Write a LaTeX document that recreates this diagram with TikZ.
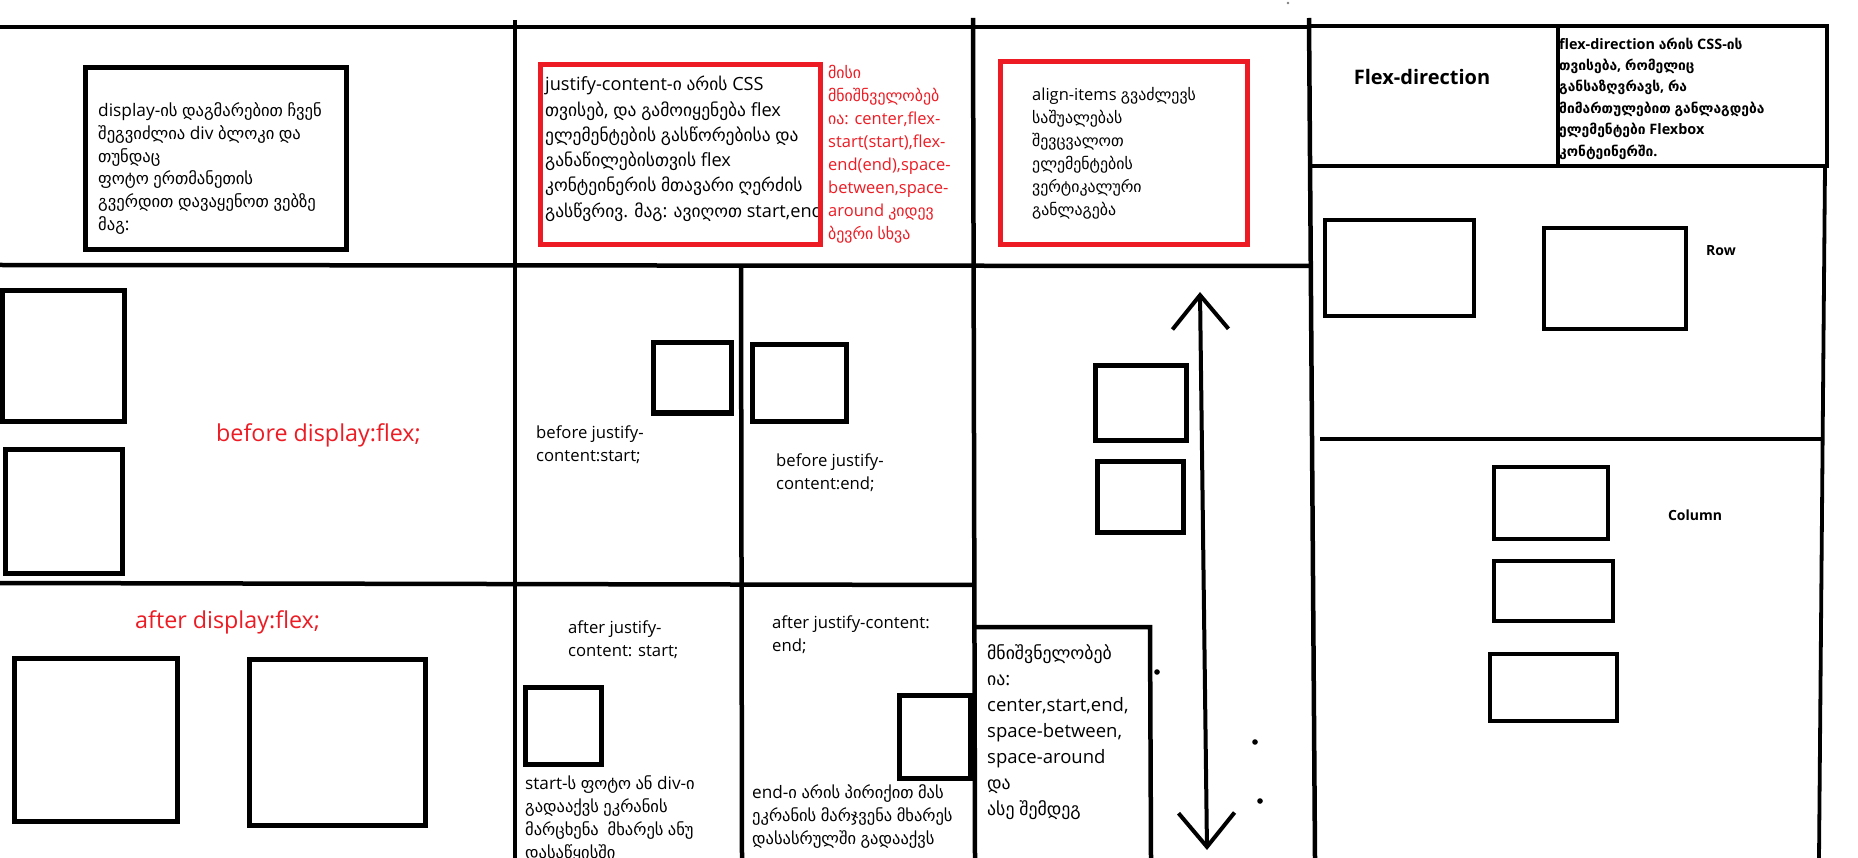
\documentclass[tikz,border=0pt]{standalone}
\usepackage{fontspec}
\setmainfont{Open Sans}
\newfontfamily\geofont{DejaVu Sans}[Scale=0.96]
\usetikzlibrary{arrows.meta}
\XeTeXinterchartokenstate=1
\newXeTeXintercharclass\GeoClass
\makeatletter
\@tempcnta="10A0
\loop\ifnum\@tempcnta<"1100
  \XeTeXcharclass\@tempcnta=\GeoClass
  \advance\@tempcnta by 1
\repeat
\makeatother
\XeTeXinterchartoks 0 \GeoClass = {\begingroup\geofont}
\XeTeXinterchartoks 4095 \GeoClass = {\begingroup\geofont}
\XeTeXinterchartoks \GeoClass 0 = {\endgroup}
\XeTeXinterchartoks \GeoClass 4095 = {\endgroup}
\definecolor{pred}{RGB}{237,28,36}
\tikzset{
  gridline/.style={line width=4.5pt},
  thingrid/.style={line width=3.8pt},
  sqbox/.style={line width=5pt},
  thinbox/.style={line width=4pt},
  redbox/.style={draw=pred, line width=5pt},
  txt/.style={inner sep=0pt, align=left, anchor=north west},
  fa/.style={font=\fontsize{17.3}{22.7}\selectfont},
  fb/.style={font=\fontsize{18.2}{25.3}\selectfont},
  fc/.style={font=\fontsize{16.5}{23}\selectfont},
  fi/.style={font=\fontsize{16.7}{22.5}\selectfont},
  fk/.style={font=\fontsize{17.2}{23}\selectfont},
  fj/.style={font=\fontsize{18.5}{26}\selectfont},
  fbig/.style={font=\fontsize{23.3}{28}\selectfont, text=pred, inner sep=0pt, anchor=base west},
  fsmall/.style={font=\bfseries\fontsize{14.4}{21.4}\selectfont},
  mybarb/.tip={Straight Barb[length=34pt, width=56pt, line width=4pt]}
}
\begin{document}
\begin{tikzpicture}[x=1pt,y=-1pt]
\useasboundingbox[fill=white] (0,0) rectangle (1858,858);

% ---------- texts ----------
\node[txt,fa] (tA) at (98,102.5) {display-ის დაგმარებით ჩვენ\\შეგვიძლია div ბლოკი და\\თუნდაც\\ფოტო ერთმანეთის\\გვერდით დავაყენოთ ვებზე\\მაგ:};
\node[txt,fb] (tB) at (545,76) {justify-content-ი არის CSS\\თვისებ, და გამოიყენება flex\\ელემენტების გასწორებისა და\\განაწილებისთვის flex\\კონტეინერის მთავარი ღერძის\\გასწვრივ. მაგ: ავიღოთ start,end};
\node[txt,fc,text=pred] (tC) at (828,65) {მისი\\მნიშნველობებ\\ია: center,flex-\\start(start),flex-\\end(end),space-\\between,space-\\around კიდევ\\ბევრი სხვა};
\node[txt,fc] (tD) at (1032,87) {align-items გვაძლევს\\საშუალებას\\შევცვალოთ\\ელემენტების\\ვერტიკალური\\განლაგება};
\node[font=\bfseries\fontsize{20}{24}\selectfont, inner sep=0pt] (tE) at (1422,77) {Flex-direction};
\node[txt,fsmall] (tF) at (1559,37.5) {flex-direction არის CSS-ის\\თვისება, რომელიც\\განსაზღვრავს, რა\\მიმართულებით განლაგდება\\ელემენტები Flexbox\\კონტეინერში.};
\node[font=\bfseries\fontsize{14}{17}\selectfont, inner sep=0pt] (tRow) at (1721,251) {Row};
\node[font=\bfseries\fontsize{14}{17}\selectfont, inner sep=0pt] (tCol) at (1695,515) {Column};

\node[fbig] (tH1) at (216,442) {before display:flex;};
\node[fbig] (tH2) at (135,628) {after display:flex;};

\node[txt,fi] (tI1) at (536,426) {before justify-\\content:start;};
\node[txt,fi] (tI2) at (776,454) {before justify-\\content:end;};
\node[txt,fi] (tI3) at (568,621) {after justify-\\content: start;};
\node[txt,fi] (tI4) at (772,616) {after justify-content:\\end;};
\node[txt,fk] (tI5) at (525,776) {start-ს ფოტო ან div-ი\\გადააქვს ეკრანის\\მარცხენა\ \ მხარეს ანუ\\დასაწყისში};
\node[txt,fk] (tI6) at (752,784) {end-ი არის პირიქით მას\\ეკრანის მარჯვენა მხარეს\\დასასრულში გადააქვს};
\node[txt,fj] (tJ) at (987,644) {მნიშვნელობებ\\ია:\\center,start,end,\\space-between,\\space-around\\და\\ასე შემდეგ};

% ---------- main grid ----------
\draw[gridline] (0,27) -- (1309,27);
\draw[gridline] (515,20) -- (515,858);
\draw[gridline] (973,18) -- (975,858);
\draw[gridline] (1309,18) -- (1315,858);
\draw[gridline] (0,265) -- (1309,266);
\draw[gridline] (741,267) -- (742,858);
\draw[gridline] (0,583) -- (975,585);
\draw[gridline] (975,627) -- (1150,627) -- (1151,858);

% ---------- right column ----------
\draw[thingrid] (1310,26) -- (1827,26) -- (1827,166) -- (1310,166);
\draw[thingrid] (1558,26) -- (1558,166);
\draw[thingrid] (1825,166) -- (1819,858);
\draw[thingrid] (1320,439) -- (1824,439);

% ---------- boxes ----------
\draw[sqbox] (85,68) rectangle (346,250);
\draw[sqbox] (2,291) rectangle (124,421);
\draw[sqbox] (5,449) rectangle (122,573);
\draw[sqbox] (14,658) rectangle (177,821);
\draw[sqbox] (249,659) rectangle (425,825);
\draw[sqbox] (653,343) rectangle (731,413);
\draw[sqbox] (752,345) rectangle (846,421);
\draw[sqbox] (525,687) rectangle (601,764);
\draw[sqbox] (899,695) rectangle (970,778);
\draw[redbox] (540,65) rectangle (820,245);
\draw[redbox] (1000,62) rectangle (1247,245);
\draw[sqbox] (1095,366) rectangle (1186,440);
\draw[sqbox] (1097,461) rectangle (1183,532);
\draw[thinbox] (1325,220) rectangle (1474,316);
\draw[thinbox] (1544,228) rectangle (1686,329);
\draw[thinbox] (1494,467) rectangle (1608,539);
\draw[thinbox] (1494,561) rectangle (1613,621);
\draw[thinbox] (1490,654) rectangle (1617,721);

% ---------- arrow and dots ----------
\coordinate (aTop) at (1200,292);
\coordinate (aBot) at (1207,850);
\draw[line width=4pt, {mybarb}-{mybarb}] (aTop) -- (aBot);
\fill (1157,672) circle (2.8pt);
\fill (1255,742) circle (2.8pt);
\fill (1260,801) circle (2.8pt);
\fill[gray] (1288,3) circle (1.3pt);
\end{tikzpicture}
\end{document}
